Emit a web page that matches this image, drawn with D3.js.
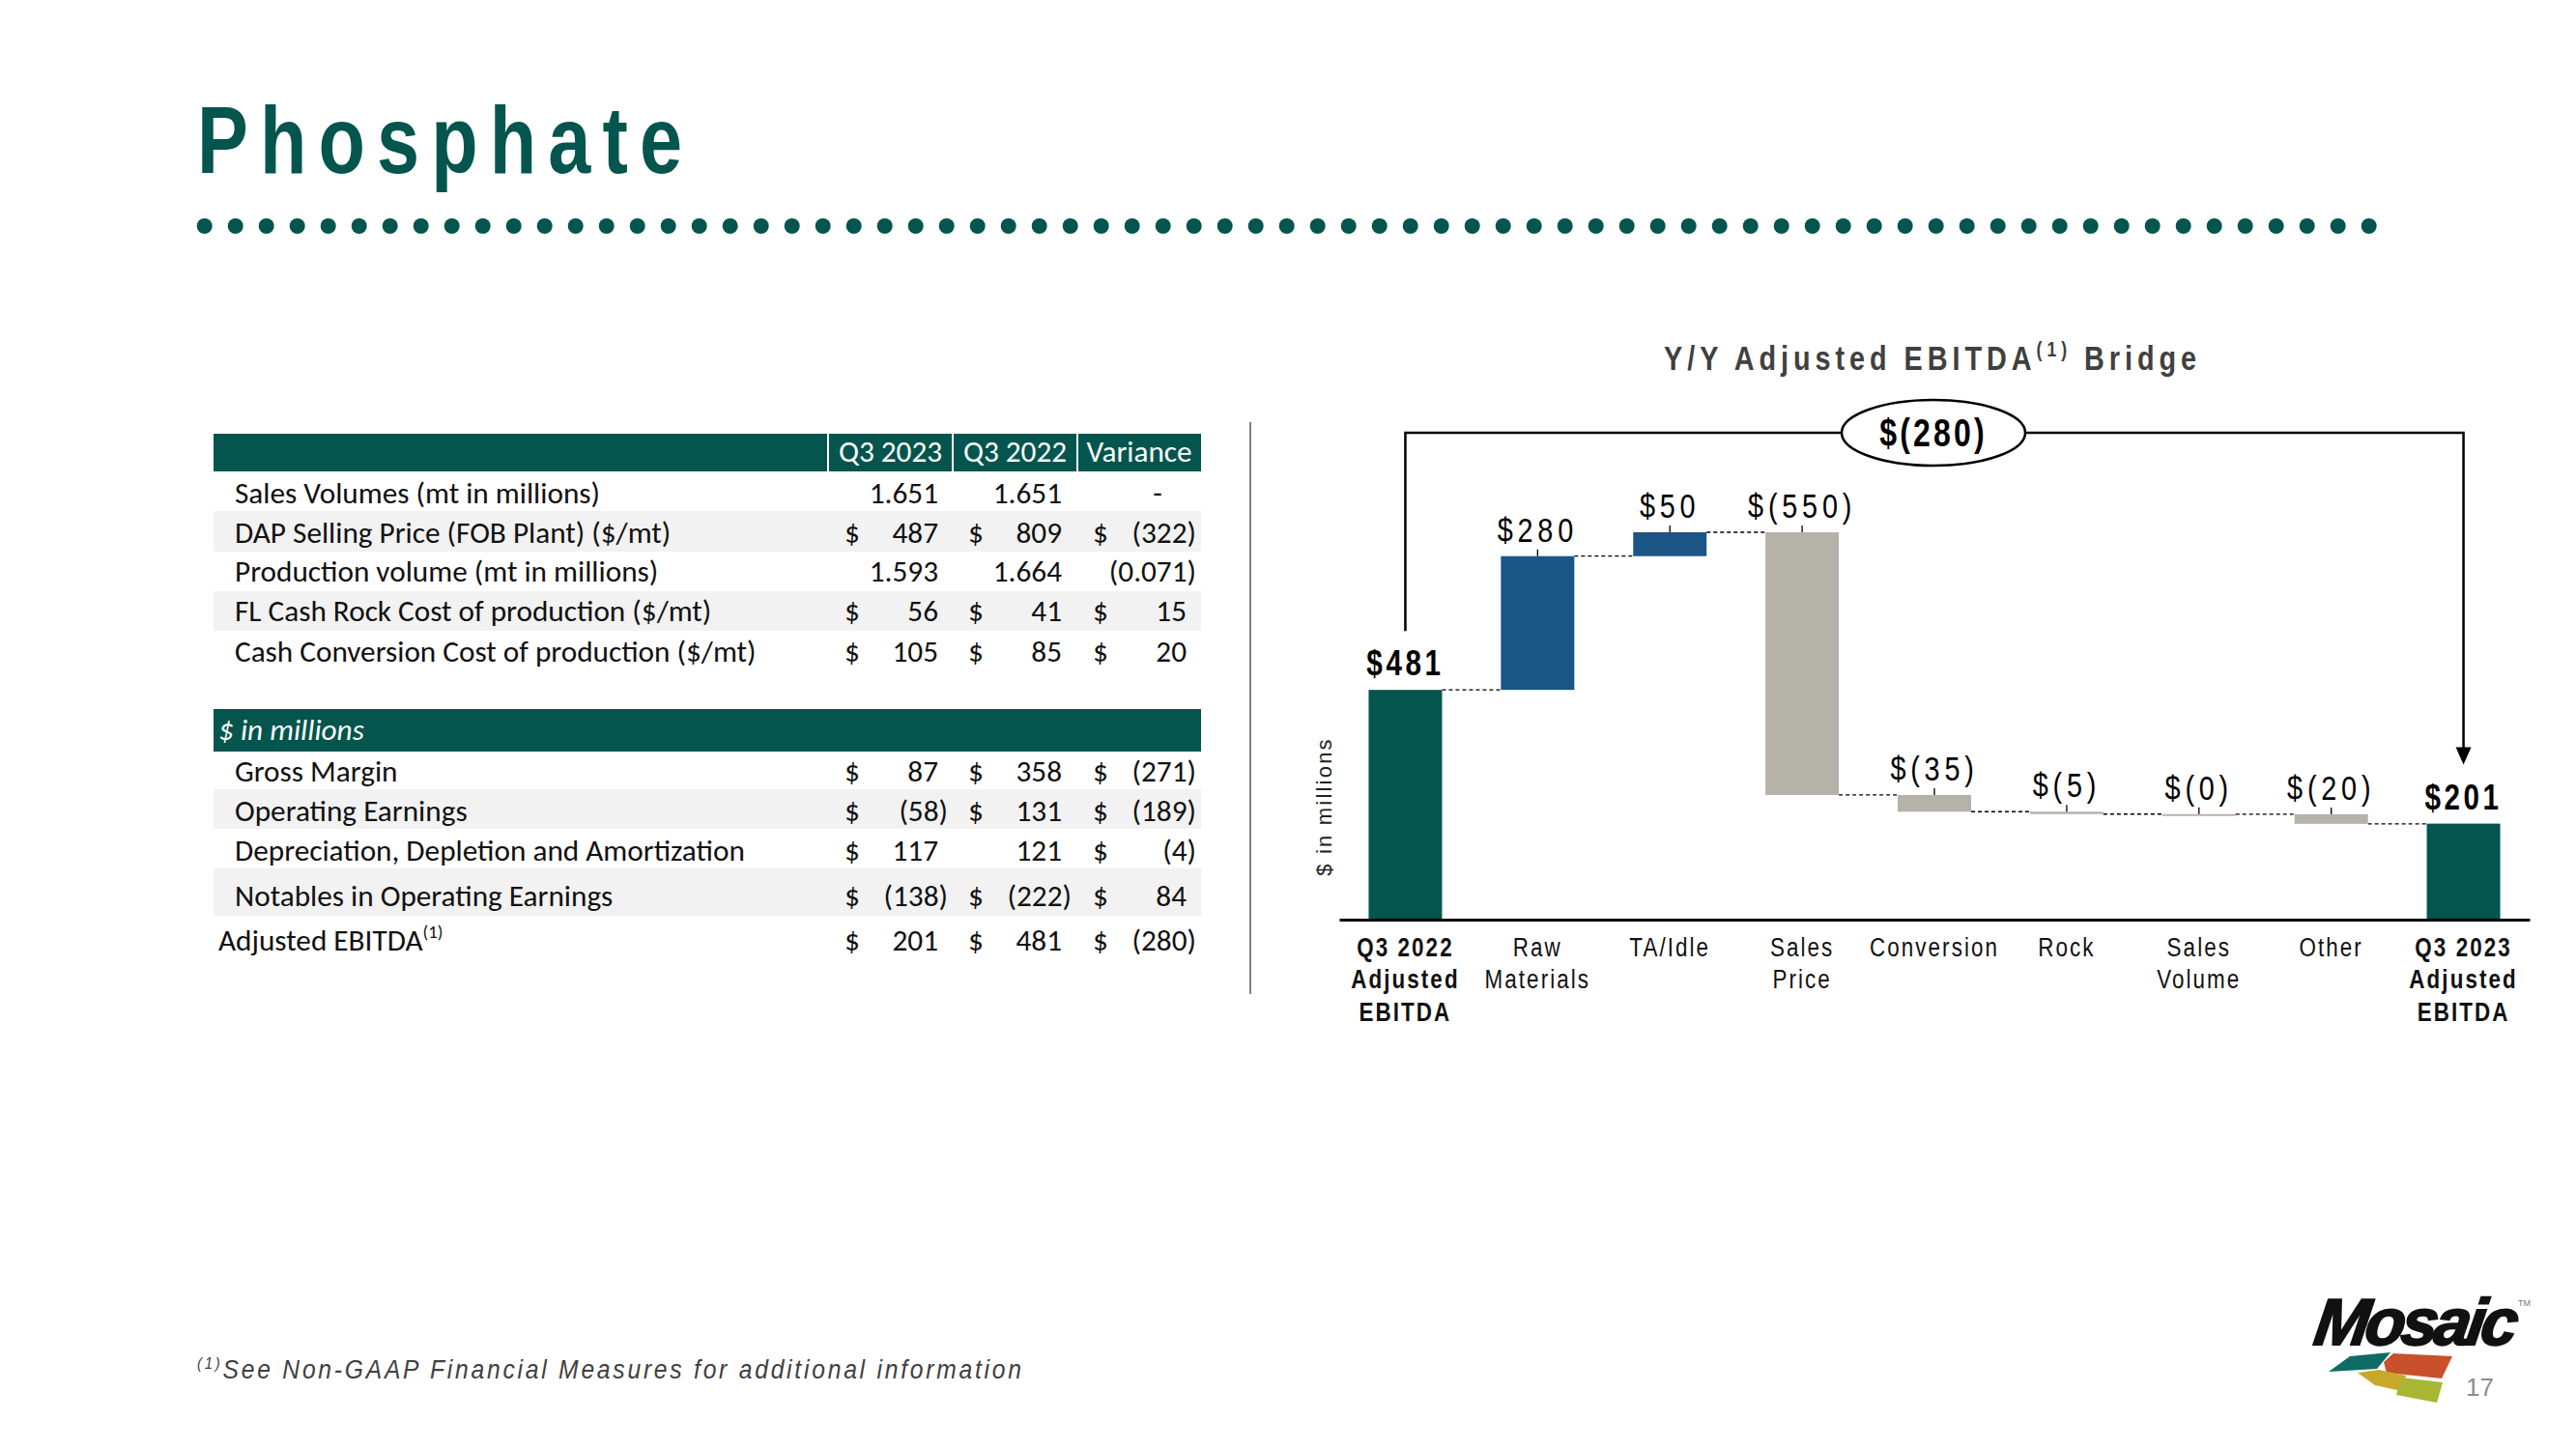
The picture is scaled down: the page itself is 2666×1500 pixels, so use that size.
<!DOCTYPE html>
<html>
<head>
<meta charset="utf-8">
<script src="https://cdn.jsdelivr.net/npm/d3@7"></script>
<style>
  html, body { margin: 0; padding: 0; background: #ffffff; }
  svg { display: block; }
</style>
</head>
<body>
<script>
// ---------------- DATA ----------------
const stepNames = ["Q3 2022 Adjusted EBITDA", "Raw Materials", "TA/Idle", "Sales Price", "Conversion", "Rock", "Sales Volume", "Other", "Q3 2023 Adjusted EBITDA"];
const stepLabelLines = [["Q3 2022", "Adjusted", "EBITDA"], ["Raw", "Materials"], ["TA/Idle"], ["Sales", "Price"], ["Conversion"], ["Rock"], ["Sales", "Volume"], ["Other"], ["Q3 2023", "Adjusted", "EBITDA"]];
const stepKinds = ["total", "delta", "delta", "delta", "delta", "delta", "delta", "delta", "total"];
const stepValues = [481, 280, 50, -550, -35, -5, -0.4, -20, 201];

const opRowLabels = ["Sales Volumes (mt in millions)", "DAP Selling Price (FOB Plant) ($/mt)", "Production volume (mt in millions)", "FL Cash Rock Cost of production ($/mt)", "Cash Conversion Cost of production ($/mt)"];
const opQ3_2023 = [1.651, 487, 1.593, 56, 105];
const opQ3_2022 = [1.651, 809, 1.664, 41, 85];
const opVariance = [0, -322, -0.071, 15, 20];
const opDecimals = [3, 0, 3, 0, 0];
const opDollar = [[false, false, false], [true, true, true], [false, false, false], [true, true, true], [true, true, true]];

const finRowLabels = ["Gross Margin", "Operating Earnings", "Depreciation, Depletion and Amortization", "Notables in Operating Earnings", "Adjusted EBITDA"];
const finQ3_2023 = [87, -58, 117, -138, 201];
const finQ3_2022 = [358, 131, 121, -222, 481];
const finVariance = [-271, -189, -4, 84, -280];
const finDollar = [[true, true, true], [true, true, true], [true, false, true], [true, true, true], [true, true, true]];

const tableHeaders = ["Q3 2023", "Q3 2022", "Variance"];

// ---------------- STYLE ----------------
const TEAL = "#03554D";
const BLUE = "#1A5586";
const GREY = "#B5B2AA";
const BAND = "#F2F2F2";
const SANS = "'Liberation Sans', Arial, sans-serif";
const TABLEFONT = "Carlito, Calibri, Lato, 'Open Sans', sans-serif";
const SQ = 0.8; // horizontal squeeze to imitate a narrow face

const W = 2666, H = 1500;
const svg = d3.select("body").append("svg").attr("width", W).attr("height", H);
svg.append("rect").attr("width", W).attr("height", H).attr("fill", "#fff");

function fitSpacing(sel, target) {
  const node = sel.node();
  const w = node.getComputedTextLength();
  const n = node.textContent.length;
  const ls = (target - w) / Math.max(1, n - 1);
  sel.attr("letter-spacing", ls);
}

// ---------------- TITLE ----------------
const title = svg.append("text").attr("transform", `translate(204,179) scale(${SQ},1)`)
  .attr("font-family", SANS).attr("font-weight", "bold").attr("font-size", 99)
  .attr("fill", TEAL).text("Phosphate");
fitSpacing(title, 502 / SQ);

svg.append("g").selectAll("circle").data(d3.range(71)).join("circle")
  .attr("cx", i => 211.7 + i * 32).attr("cy", 234).attr("r", 8).attr("fill", TEAL);

// ---------------- TABLES ----------------
const tX0 = 221, tX1 = 1243;
const colSep = [857, 986, 1115];
const colDollarX = [874, 1002, 1131];
const colRightX = [971, 1099, 1228];
const parenW = 10;

const probe = svg.append("text").attr("font-family", TABLEFONT).attr("font-size", 100).text(finRowLabels[2]);
const tfs = 100 * 528 / probe.node().getComputedTextLength();
probe.remove();

function fmtNum(v, dec) {
  if (v === 0) return "-";
  const s = Math.abs(v).toFixed(dec);
  return v < 0 ? "(" + s + ")" : s;
}

function drawRows(g, labels, cols, decs, dollars, rowTops, rowHs, baselines, bands, labelX) {
  g.selectAll("rect.band").data(bands).join("rect").attr("class", "band")
    .attr("x", tX0).attr("width", tX1 - tX0)
    .attr("y", i => rowTops[i]).attr("height", i => rowHs[i]).attr("fill", BAND);
  labels.forEach((lab, i) => {
    const t = g.append("text").attr("x", labelX[i]).attr("y", baselines[i])
      .attr("font-family", TABLEFONT).attr("font-size", tfs).attr("fill", "#111").text(lab);
    if (lab === "Adjusted EBITDA") {
      t.append("tspan").attr("font-size", tfs * 0.6).attr("dy", -tfs * 0.42).text("(1)");
    }
    cols.forEach((arr, c) => {
      const v = arr[i];
      if (dollars[i][c]) {
        g.append("text").attr("x", colDollarX[c]).attr("y", baselines[i])
          .attr("font-family", TABLEFONT).attr("font-size", tfs).attr("fill", "#111").text("$");
      }
      const str = fmtNum(v, decs[i]);
      const isDash = str === "-";
      g.append("text")
        .attr("x", isDash ? colRightX[c] - 30 : (v < 0 ? colRightX[c] + parenW : colRightX[c]))
        .attr("y", baselines[i]).attr("text-anchor", isDash ? "middle" : "end")
        .attr("font-family", TABLEFONT).attr("font-size", tfs).attr("fill", "#111").text(str);
    });
  });
}

// table 1
const t1 = svg.append("g");
t1.append("rect").attr("x", tX0).attr("y", 449).attr("width", tX1 - tX0).attr("height", 39).attr("fill", TEAL);
t1.selectAll("line.sep").data(colSep).join("line").attr("class", "sep")
  .attr("x1", d => d).attr("x2", d => d).attr("y1", 449).attr("y2", 488)
  .attr("stroke", "#fff").attr("stroke-width", 2);
t1.selectAll("text.hdr").data(tableHeaders).join("text").attr("class", "hdr")
  .attr("x", (d, i) => (colSep[i] + (i < 2 ? colSep[i + 1] : tX1)) / 2).attr("y", 478)
  .attr("text-anchor", "middle").attr("font-family", TABLEFONT).attr("font-size", tfs)
  .attr("fill", "#fff").text(d => d);
drawRows(t1, opRowLabels, [opQ3_2023, opQ3_2022, opVariance], opDecimals, opDollar,
  [488, 529, 571, 612, 653], [41, 42, 41, 41, 41], [521, 562, 602, 643, 685], [1, 3],
  [243, 243, 243, 243, 243]);

// table 2
const t2 = svg.append("g");
t2.append("rect").attr("x", tX0).attr("y", 734).attr("width", tX1 - tX0).attr("height", 44).attr("fill", TEAL);
t2.append("text").attr("x", 226).attr("y", 766).attr("font-family", TABLEFONT).attr("font-size", tfs)
  .attr("font-style", "italic").attr("fill", "#fff").text("$ in millions");
drawRows(t2, finRowLabels, [finQ3_2023, finQ3_2022, finVariance], [0, 0, 0, 0, 0], finDollar,
  [778, 817, 858, 899, 948], [39, 41, 41, 49, 46], [809, 850, 891, 938, 984], [1, 3],
  [243, 243, 243, 243, 226]);

// divider
svg.append("line").attr("x1", 1294).attr("x2", 1294).attr("y1", 437).attr("y2", 1029)
  .attr("stroke", "#7f7f7f").attr("stroke-width", 2);

// ---------------- WATERFALL ----------------
let run = 0;
const bars = stepValues.map((v, i) => {
  let start, end;
  if (stepKinds[i] === "total") { start = 0; end = v; }
  else { start = run; end = run + v; }
  run = end;
  return { name: stepNames[i], lines: stepLabelLines[i], kind: stepKinds[i], value: v, start, end };
});

const x = d3.scaleBand().domain(stepNames).range([1386, 2618]).paddingInner(0.445).paddingOuter(0.2225);
const y = d3.scaleLinear().domain([0, 811]).range([952, 551]);
const bw = x.bandwidth();
const cx = d => x(d.name) + bw / 2;
const topY = d => y(Math.max(d.start, d.end));

const chart = svg.append("g");

chart.selectAll("rect.bar").data(bars).join("rect").attr("class", "bar")
  .attr("x", d => x(d.name)).attr("width", bw)
  .attr("y", topY)
  .attr("height", d => Math.max(2, Math.abs(y(d.start) - y(d.end))))
  .attr("fill", d => d.kind === "total" ? TEAL : (d.value >= 0 ? BLUE : GREY));

chart.selectAll("line.conn").data(bars.slice(0, -1)).join("line").attr("class", "conn")
  .attr("x1", d => x(d.name) + bw).attr("x2", (d, i) => x(bars[i + 1].name))
  .attr("y1", d => y(d.end)).attr("y2", d => y(d.end))
  .attr("stroke", "#000").attr("stroke-width", 1.3).attr("stroke-dasharray", "4,3");

const axis = chart.append("g").attr("transform", `translate(0,${y(0)})`)
  .call(d3.axisBottom(x).tickSize(0).tickFormat(""));
axis.select(".domain").attr("stroke", "#000").attr("stroke-width", 3);

chart.selectAll("line.lead").data(bars.filter(d => d.kind === "delta")).join("line").attr("class", "lead")
  .attr("x1", cx).attr("x2", cx)
  .attr("y1", d => topY(d) - 7).attr("y2", topY)
  .attr("stroke", "#000").attr("stroke-width", 1.3);

const fmtMoney = v => v < 0 ? `$(${Math.round(-v)})` : `$${Math.round(v)}`;
chart.selectAll("text.val").data(bars).join("text").attr("class", "val")
  .attr("transform", d => `translate(${cx(d)},${topY(d) - 15}) scale(${SQ},1)`)
  .attr("text-anchor", "middle").attr("font-family", SANS)
  .attr("font-weight", d => d.kind === "total" ? "bold" : "normal")
  .attr("font-size", d => d.kind === "total" ? 37 : 36)
  .attr("letter-spacing", d => d.kind === "total" ? 4.5 : 6)
  .attr("fill", "#000").text(d => fmtMoney(d.value));

const cat = chart.selectAll("text.cat").data(bars).join("text").attr("class", "cat")
  .attr("transform", d => `translate(${cx(d)},990) scale(${SQ},1)`)
  .attr("text-anchor", "middle").attr("font-family", SANS)
  .attr("font-weight", d => d.kind === "total" ? "bold" : "normal")
  .attr("font-size", 28).attr("letter-spacing", 2.6).attr("fill", "#111");
cat.selectAll("tspan").data(d => d.lines).join("tspan")
  .attr("x", 0).attr("dy", (d, i) => i === 0 ? 0 : 33.5).text(d => d);

svg.append("text").attr("transform", "translate(1378,835) rotate(-90)")
  .attr("text-anchor", "middle").attr("font-family", SANS).attr("font-size", 22)
  .attr("letter-spacing", 2.2).attr("fill", "#222").text("$ in millions");

const ct = svg.append("text").attr("transform", `translate(2000,383) scale(${SQ},1)`).attr("text-anchor", "middle")
  .attr("font-family", SANS).attr("font-weight", "bold").attr("font-size", 36).attr("fill", "#404040");
ct.append("tspan").text("Y/Y Adjusted EBITDA");
ct.append("tspan").attr("font-size", 22).attr("dy", -14).text("(1)");
ct.append("tspan").attr("dy", 14).text(" Bridge");
fitSpacing(ct, 551 / SQ);

// bracket annotation
const first = bars[0], last = bars[bars.length - 1];
const lx = cx(first), rx = cx(last);
const bracketY = 448;
const leftEnd = y(first.end) - 61;
const arrowTip = y(last.end) - 61;
const br = svg.append("g");
br.append("path")
  .attr("d", `M${lx},${leftEnd} V${bracketY} H${rx} V${arrowTip - 17}`)
  .attr("fill", "none").attr("stroke", "#000").attr("stroke-width", 2.5);
br.append("path")
  .attr("d", `M${rx - 8},${arrowTip - 18} L${rx + 8},${arrowTip - 18} L${rx},${arrowTip} Z`)
  .attr("fill", "#000");
br.append("ellipse").attr("cx", (lx + rx) / 2 - 1).attr("cy", bracketY).attr("rx", 95).attr("ry", 34)
  .attr("fill", "#fff").attr("stroke", "#000").attr("stroke-width", 2.5);
br.append("text").attr("transform", `translate(${(lx + rx) / 2 - 1},${bracketY + 14}) scale(${SQ},1)`)
  .attr("text-anchor", "middle")
  .attr("font-family", SANS).attr("font-weight", "bold").attr("font-size", 40).attr("letter-spacing", 4)
  .attr("fill", "#000").text(fmtMoney(last.end - first.end));

// ---------------- FOOTNOTE ----------------
const fn = svg.append("text").attr("transform", `translate(204,1427) scale(0.88,1)`)
  .attr("font-family", SANS).attr("font-style", "italic").attr("font-size", 28).attr("fill", "#404040");
fn.append("tspan").attr("font-size", 17).attr("dy", -10).text("(1)");
fn.append("tspan").attr("dy", 10).text("See Non-GAAP Financial Measures for additional information");
fitSpacing(fn, 853 / 0.88);

// ---------------- LOGO ----------------
const logo = svg.append("g");
const mt = logo.append("text").attr("transform", "translate(2393,1392) skewX(-8)")
  .attr("font-family", SANS).attr("font-weight", "bold").attr("font-style", "italic")
  .attr("font-size", 68).attr("fill", "#111").attr("stroke", "#111").attr("stroke-width", 2).text("Mosaic");
fitSpacing(mt, 210);
logo.append("text").attr("x", 2606).attr("y", 1352).attr("font-family", SANS).attr("font-size", 9)
  .attr("fill", "#777").text("TM");
logo.append("polygon").attr("points", "2410,1420 2432,1404 2474,1400 2460,1417").attr("fill", "#0F6B66");
logo.append("polygon").attr("points", "2467,1410 2477,1401 2538,1404 2527,1427 2470,1421").attr("fill", "#C8502A");
logo.append("polygon").attr("points", "2440,1421 2462,1418 2490,1424 2485,1440 2458,1434").attr("fill", "#C8A82A");
logo.append("polygon").attr("points", "2485,1426 2528,1431 2522,1452 2480,1444").attr("fill", "#A9B634");
svg.append("text").attr("x", 2552).attr("y", 1445).attr("font-family", SANS).attr("font-size", 26)
  .attr("fill", "#8c8c8c").text("17");
</script>
</body>
</html>
